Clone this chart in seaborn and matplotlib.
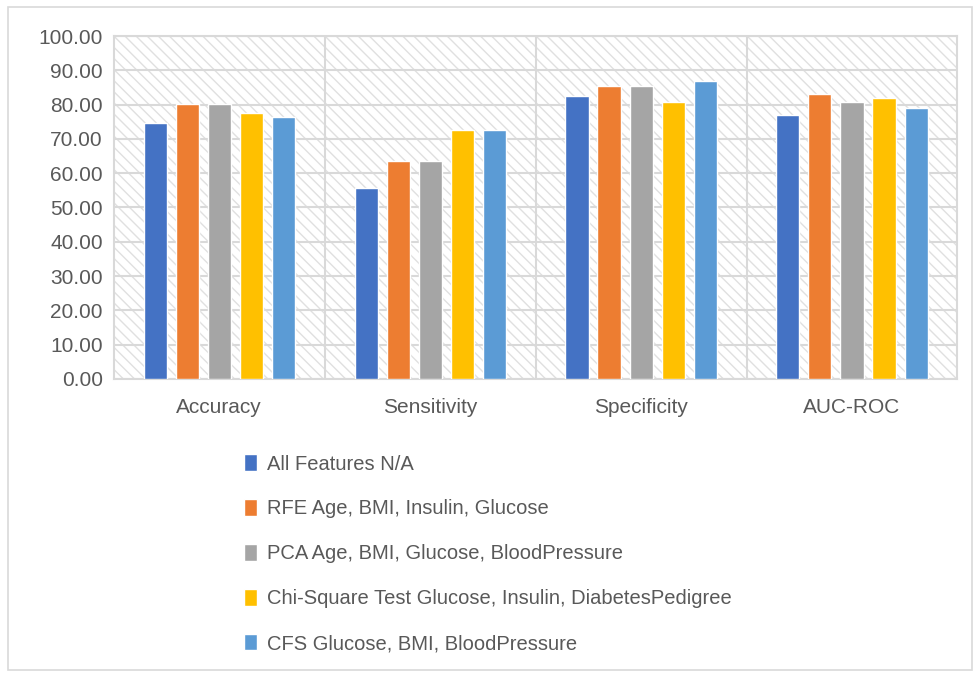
import matplotlib.pyplot as plt
import matplotlib.patches as mpatches
import seaborn as sns
import pandas as pd

metrics = ["Accuracy", "Sensitivity", "Specificity", "AUC-ROC"]
methods = [
    "All Features N/A",
    "RFE Age, BMI, Insulin, Glucose",
    "PCA Age, BMI, Glucose, BloodPressure",
    "Chi-Square Test Glucose, Insulin, DiabetesPedigree",
    "CFS Glucose, BMI, BloodPressure",
]
all_features = [74.6, 55.7, 82.6, 77.0]
rfe = [80.2, 63.6, 85.4, 83.0]
pca = [80.2, 63.6, 85.4, 80.8]
chi_square = [77.6, 72.6, 80.8, 82.0]
cfs = [76.3, 72.6, 86.8, 78.9]
colors = ["#4472C4", "#ED7D31", "#A5A5A5", "#FFC000", "#5B9BD5"]

rows = []
for method, vals in zip(methods, [all_features, rfe, pca, chi_square, cfs]):
    for m, v in zip(metrics, vals):
        rows.append({"metric": m, "method": method, "value": v})
df = pd.DataFrame(rows)

sns.set_style("white")
plt.rcParams["font.family"] = ["Liberation Sans", "DejaVu Sans"]
plt.rcParams["hatch.linewidth"] = 1.0

fig = plt.figure(figsize=(9.73, 6.73), dpi=100)
ax = fig.add_axes([0.117, 0.437, 0.867, 0.5095])

# hatched plot background
bg = mpatches.Rectangle((0, 0), 1, 1, transform=ax.transAxes, facecolor="white",
                        edgecolor="#e0e0e0", hatch="\\\\\\", linewidth=0, zorder=0)
ax.add_patch(bg)

sns.barplot(data=df, x="metric", y="value", hue="method", palette=colors,
            width=0.76, gap=0.28, ax=ax, zorder=3, saturation=1)

ax.set_ylim(0, 100)
ax.set_xlim(-0.5, 3.5)
ax.set_yticks(range(0, 101, 10))
ax.set_yticklabels([f"{v:.2f}" for v in range(0, 101, 10)])
ax.yaxis.grid(True, color="#d9d9d9", linewidth=1.5, zorder=1)
for xv in [0.5, 1.5, 2.5]:
    ax.axvline(xv, color="#d9d9d9", linewidth=1.5, zorder=1)
for s in ax.spines.values():
    s.set_color("#d9d9d9")
    s.set_linewidth(1.5)
ax.tick_params(axis="both", length=0, labelsize=15, colors="#595959", pad=8)
ax.tick_params(axis="x", pad=14)
ax.set_xlabel("")
ax.set_ylabel("")

handles, labels = ax.get_legend_handles_labels()
ax.get_legend().remove()
fig.legend(handles, labels, loc="upper left", bbox_to_anchor=(0.232, 0.352),
           frameon=False, fontsize=14.5, labelcolor="#595959", handlelength=0.65,
           handleheight=0.9, handletextpad=0.5, labelspacing=1.27)

# outer chart border
fig.patches.append(mpatches.Rectangle((8 / 973, 3 / 673), 964 / 973, 663 / 673,
                                      transform=fig.transFigure, fill=False,
                                      edgecolor="#d9d9d9", linewidth=1.2))

fig.savefig("out.png", dpi=100)
plt.close(fig)
